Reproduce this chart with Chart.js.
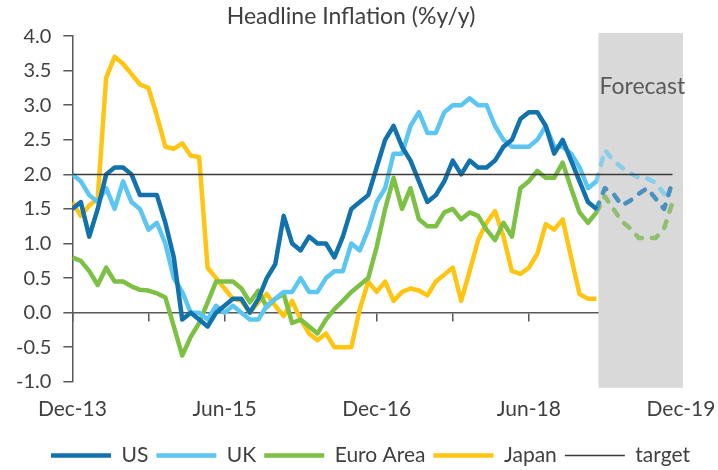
<!DOCTYPE html>
<html>
<head>
<meta charset="utf-8">
<script src="https://cdn.jsdelivr.net/npm/chart.js@4.4.1/dist/chart.umd.min.js"></script>
<style>
  html, body { margin: 0; padding: 0; background: #fff; }
  #wrap { width: 718px; height: 470px; }
</style>
</head>
<body>
<div id="wrap"><canvas id="chart"></canvas></div>
<script>
// x = month index, 0 = Dec-13, 62 = Feb-19 (last actual), 72 = Dec-19
const xTickLabels = ['Dec-13', 'Jun-15', 'Dec-16', 'Jun-18', 'Dec-19'];
const lastActual = 62;
const targetValue = 2.0;

const usActual = [1.5, 1.6, 1.1, 1.5, 2.0, 2.1, 2.1, 2.0, 1.7, 1.7, 1.7, 1.3, 0.8,
  -0.1, 0.0, -0.1, -0.2, 0.0, 0.1, 0.2, 0.2, 0.0, 0.2, 0.5, 0.7,
  1.4, 1.0, 0.9, 1.1, 1.0, 1.0, 0.8, 1.1, 1.5, 1.6, 1.7, 2.1,
  2.5, 2.7, 2.4, 2.2, 1.9, 1.6, 1.7, 1.9, 2.2, 2.0, 2.2, 2.1,
  2.1, 2.2, 2.4, 2.5, 2.8, 2.9, 2.9, 2.7, 2.3, 2.5, 2.2, 1.9,
  1.6, 1.5];
const usForecast = [1.8, 1.72, 1.55, 1.62, 1.72, 1.8, 1.65, 1.5, 1.9];

const ukActual = [2.0, 1.9, 1.7, 1.6, 1.8, 1.5, 1.9, 1.6, 1.5, 1.2, 1.3, 1.0, 0.5,
  0.3, 0.0, 0.0, -0.1, 0.1, 0.0, 0.1, 0.0, -0.1, -0.1, 0.1, 0.2,
  0.3, 0.3, 0.5, 0.3, 0.3, 0.5, 0.6, 0.6, 1.0, 0.9, 1.2, 1.6,
  1.8, 2.3, 2.3, 2.7, 2.9, 2.6, 2.6, 2.9, 3.0, 3.0, 3.1, 3.0,
  3.0, 2.7, 2.5, 2.4, 2.4, 2.4, 2.5, 2.7, 2.4, 2.4, 2.3, 2.1,
  1.8, 1.9];
const ukForecast = [2.35, 2.2, 2.1, 2.02, 1.95, 1.94, 1.88, 1.72, 1.68];

const euroActual = [0.8, 0.75, 0.6, 0.4, 0.65, 0.45, 0.45, 0.38, 0.33, 0.32, 0.28, 0.22, -0.2,
  -0.62, -0.35, -0.15, 0.15, 0.45, 0.45, 0.45, 0.35, 0.15, 0.32, 0.08, 0.2,
  0.27, -0.15, -0.1, -0.2, -0.3, -0.1, 0.05, 0.17, 0.3, 0.4, 0.5, 0.95,
  1.5, 1.95, 1.5, 1.8, 1.35, 1.25, 1.25, 1.45, 1.5, 1.35, 1.45, 1.4,
  1.2, 1.05, 1.3, 1.1, 1.8, 1.9, 2.05, 1.95, 1.95, 2.17, 1.8, 1.45,
  1.3, 1.45];
const euroForecast = [1.68, 1.5, 1.32, 1.22, 1.08, 1.08, 1.08, 1.22, 1.6];

const japanActual = [1.6, 1.4, 1.55, 1.65, 3.4, 3.7, 3.6, 3.45, 3.3, 3.25, 2.85, 2.4, 2.37,
  2.45, 2.27, 2.25, 0.65, 0.5, 0.35, 0.2, 0.17, 0.0, 0.15, 0.27, 0.1,
  -0.05, 0.17, -0.1, -0.3, -0.4, -0.3, -0.5, -0.5, -0.5, 0.05, 0.45, 0.3,
  0.45, 0.17, 0.3, 0.35, 0.32, 0.25, 0.45, 0.55, 0.65, 0.17, 0.6, 1.05,
  1.3, 1.47, 1.1, 0.6, 0.56, 0.65, 0.85, 1.28, 1.2, 1.35, 0.8, 0.27,
  0.2, 0.2];

const FONT = 'Lato, "Open Sans", sans-serif';
const TEXT = '#404040';
const AXIS = '#595959';

function toPoints(values, start) {
  return values.map((v, i) => ({ x: start + i, y: v }));
}

function actualLine(label, values, color) {
  return {
    label: label,
    data: toPoints(values, 0),
    borderColor: color,
    backgroundColor: color,
    borderWidth: 4.5,
    pointRadius: 0,
    tension: 0,
    borderJoinStyle: 'round',
  };
}

// forecast picks up from the last actual month, dashed and paler
function forecastLine(label, actual, forecast, color) {
  return {
    label: label + ' forecast',
    forecast: true,
    data: toPoints([actual[lastActual]].concat(forecast), lastActual),
    borderColor: color,
    borderWidth: 4.5,
    borderDash: [7, 10],
    borderCapStyle: 'round',
    borderJoinStyle: 'round',
    pointRadius: 0,
    tension: 0,
  };
}

// grey forecast band behind the lines, with its label
const forecastShade = {
  id: 'forecastShade',
  beforeDatasetsDraw(chart) {
    const { ctx, chartArea, scales } = chart;
    const left = scales.x.getPixelForValue(lastActual) + 2;
    ctx.save();
    ctx.fillStyle = '#d9d9d9';
    ctx.fillRect(left, chartArea.top - 3, chartArea.right + 2 - left, chartArea.bottom - chartArea.top + 9);
    ctx.font = '23px ' + FONT;
    ctx.fillStyle = '#595959';
    ctx.textBaseline = 'middle';
    ctx.fillText('Forecast', left + 1, scales.y.getPixelForValue(3.27));
    ctx.restore();
  },
};

const targetData = usActual.concat(usForecast).map(() => targetValue);

new Chart(document.getElementById('chart'), {
  type: 'line',
  data: {
    datasets: [
      actualLine('US', usActual, '#1172ad'),
      actualLine('UK', ukActual, '#5cc6f2'),
      actualLine('Euro Area', euroActual, '#7cc143'),
      actualLine('Japan', japanActual, '#ffc511'),
      {
        label: 'target',
        data: toPoints(targetData, 0),
        borderColor: '#3a3a3a',
        backgroundColor: '#3a3a3a',
        borderWidth: 1.5,
        pointRadius: 0,
        order: -1,
      },
      forecastLine('US', usActual, usForecast, '#4a91c2'),
      forecastLine('UK', ukActual, ukForecast, '#88cdeb'),
      forecastLine('Euro Area', euroActual, euroForecast, '#90bf70'),
    ],
  },
  options: {
    responsive: true,
    maintainAspectRatio: false,
    animation: false,
    layout: { padding: { left: 4, right: 20, top: 3, bottom: -6 } },
    plugins: {
      title: {
        display: true,
        text: 'Headline Inflation (%y/y)',
        color: TEXT,
        font: { family: FONT, size: 23, weight: 'normal' },
        padding: { top: 0, bottom: 5.5 },
      },
      legend: {
        position: 'bottom',
        align: 'end',
        labels: {
          usePointStyle: true,
          pointStyle: 'line',
          pointStyleWidth: 60,
          padding: 8,
          color: TEXT,
          font: { family: FONT, size: 21 },
          sort: (a, b) => a.datasetIndex - b.datasetIndex,
          filter: (item, data) => !data.datasets[item.datasetIndex].forecast,
        },
      },
      tooltip: { enabled: false },
    },
    scales: {
      x: {
        type: 'linear',
        min: 0,
        max: 72,
        grid: { display: false, drawTicks: false },
        border: { display: false },
        ticks: {
          stepSize: 18,
          autoSkip: false,
          maxRotation: 0,
          padding: 15,
          color: TEXT,
          font: { family: FONT, size: 21 },
          callback: (v) => xTickLabels[v / 18],
        },
        afterFit: (scale) => {
          scale.paddingLeft = 0;
          scale.paddingRight = 37;
        },
      },
      xZero: {
        type: 'linear',
        axis: 'x',
        position: { y: 0 },
        min: 0,
        max: 72,
        grid: { drawOnChartArea: false, drawTicks: true, tickLength: 8, color: AXIS, lineWidth: 1.5 },
        border: { color: AXIS, width: 1.5 },
        ticks: { stepSize: 9, autoSkip: false, callback: () => '' },
      },
      y: {
        min: -1,
        max: 4,
        grid: { drawOnChartArea: false, drawTicks: true, tickLength: 9, color: AXIS, lineWidth: 1.5 },
        border: { color: AXIS, width: 1.5 },
        ticks: {
          stepSize: 0.5,
          padding: 12,
          color: TEXT,
          font: { family: FONT, size: 20 },
          callback: (v) => v.toFixed(1),
        },
      },
    },
  },
  plugins: [forecastShade],
});
</script>
</body>
</html>
